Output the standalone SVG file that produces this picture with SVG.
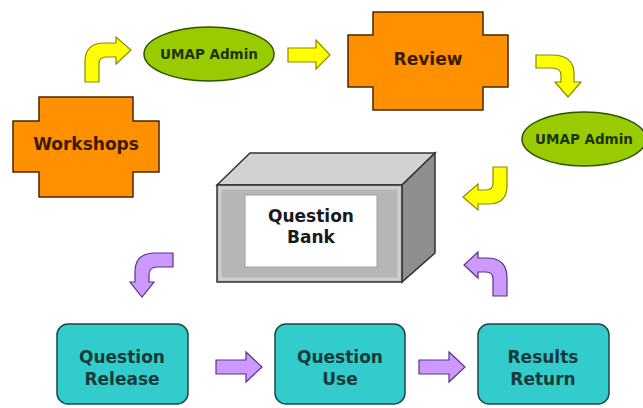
<svg xmlns="http://www.w3.org/2000/svg" width="643" height="408" viewBox="0 0 643 408">
<style>
.lbl{font-family:"DejaVu Sans","Liberation Sans",sans-serif;font-weight:bold;text-anchor:middle}
.cross{fill:#ff9000;stroke:#4a2600;stroke-width:1.5}
.oval{fill:#99cc00;stroke:#2f5200;stroke-width:1.5}
.teal{fill:#33cccc;stroke:#1d4646;stroke-width:1.5}
.ya{fill:#ffff00;stroke:#8a8a00;stroke-width:1.2}
.pa{fill:#cc99ff;stroke:#5c3385;stroke-width:1.2}
.t-or{fill:#3a1c00;font-size:17px}
.t-gr{fill:#1e3300;font-size:13.5px}
.t-tl{fill:#173a3a;font-size:17px}
.t-bk{fill:#1a1a1a;font-size:17px}
</style>
<rect width="643" height="408" fill="#ffffff"/>
<g id="connectors">
<path class="ya" d="M85,82 L85,62 Q85,43 104,43 L116,43 L116,37 L131,50 L116,64 L116,57 L106,57 Q99,57 99,64 L99,82 Z"/>
<path class="ya" d="M288,48 L316,48 L316,40 L330,55 L316,69 L316,62 L288,62 Z"/>
<path class="ya" d="M536,55 L552,55 Q574,55 574,74 L574,82 L581,82 L568,97 L555,82 L561,82 L561,75 Q561,68 552,68 L536,68 Z"/>
<path class="ya" d="M493,167 L507,167 L507,186 Q507,204 488,204 L478,204 L478,210 L463,197 L478,184 L478,190 L486,190 Q493,190 493,183 Z"/>
<path class="pa" d="M173,253 L173,267 L157,267 Q149,267 149,275 L149,282 L154,282 L142,297 L130,282 L135,282 L135,272 Q135,253 155,253 Z"/>
<path class="pa" d="M216,360 L246,360 L246,352 L262,367 L246,382 L246,374 L216,374 Z"/>
<path class="pa" d="M419,360 L449,360 L449,352 L465,367 L449,382 L449,374 L419,374 Z"/>
<path class="pa" d="M493,296 L507,296 L507,278 Q507,258 487,258 L478,258 L478,252 L464,265 L478,278 L478,272 L486,272 Q493,272 493,279 Z"/>
</g>
<g id="workshops">
<polygon class="cross" points="39,97 133,97 133,121 159,121 159,172 133,172 133,197 39,197 39,172 13,172 13,121 39,121"/>
<text class="lbl t-or" x="86" y="150">Workshops</text>
</g>
<g id="umap1">
<ellipse class="oval" cx="209" cy="54" rx="65" ry="27"/>
<text class="lbl t-gr" x="209" y="59">UMAP Admin</text>
</g>
<g id="review">
<polygon class="cross" points="373,12 483,12 483,35 508,35 508,87 483,87 483,110 373,110 373,87 348,87 348,35 373,35"/>
<text class="lbl t-or" x="428" y="65">Review</text>
</g>
<g id="umap2">
<ellipse class="oval" cx="584" cy="139" rx="62" ry="27"/>
<text class="lbl t-gr" x="584" y="144">UMAP Admin</text>
</g>
<g id="bank">
<polygon points="217,185 250,153 435,153 402,185" fill="#d2d2d2" stroke="#333" stroke-width="1.5"/>
<polygon points="402,185 435,153 435,253 402,282" fill="#8e8e8e" stroke="#333" stroke-width="1.5"/>
<rect x="217" y="185" width="185" height="97" fill="#b6b6b6" stroke="#333" stroke-width="1.5"/>
<rect x="220" y="188" width="179" height="91" fill="none" stroke="#d0d0d0" stroke-width="3"/>
<rect x="245" y="195" width="132" height="72" fill="#ffffff" stroke="#a0a0a0" stroke-width="1"/>
<text class="lbl t-bk" x="311" y="222">Question</text>
<text class="lbl t-bk" x="311" y="243">Bank</text>
</g>
<g id="release">
<rect class="teal" x="57" y="324" width="131" height="80" rx="11"/>
<text class="lbl t-tl" x="122" y="363">Question</text>
<text class="lbl t-tl" x="122" y="385">Release</text>
</g>
<g id="use">
<rect class="teal" x="275" y="324" width="130" height="80" rx="11"/>
<text class="lbl t-tl" x="340" y="363">Question</text>
<text class="lbl t-tl" x="340" y="385">Use</text>
</g>
<g id="results">
<rect class="teal" x="478" y="324" width="131" height="80" rx="11"/>
<text class="lbl t-tl" x="543" y="363">Results</text>
<text class="lbl t-tl" x="543" y="385">Return</text>
</g>
</svg>
